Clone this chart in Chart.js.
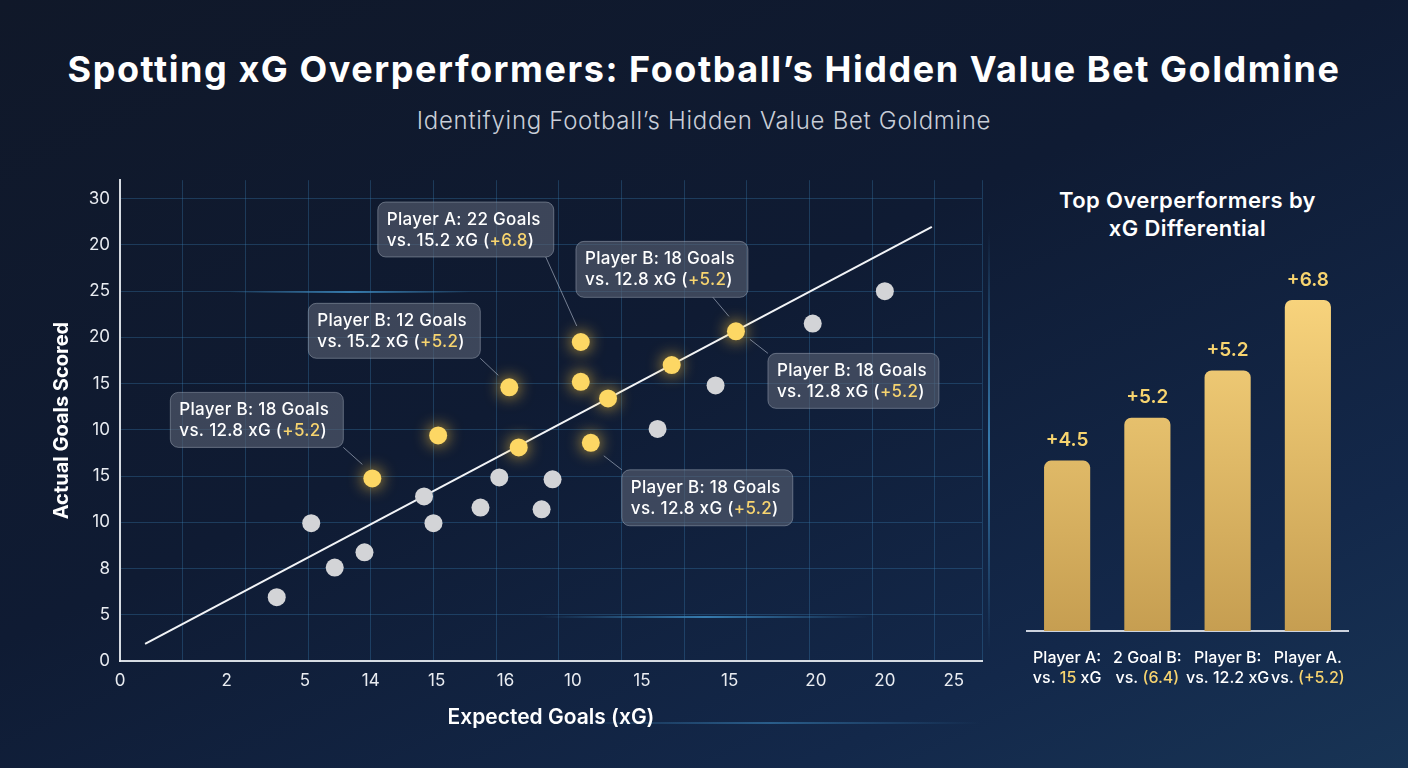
<!DOCTYPE html>
<html>
<head>
<meta charset="utf-8">
<script src="https://cdn.jsdelivr.net/npm/chart.js@4.4.1/dist/chart.umd.min.js"></script>
<style>
  html, body { margin: 0; padding: 0; }
  body {
    width: 1408px; height: 768px; overflow: hidden; position: relative;
    background: linear-gradient(155deg, #101829 0%, #0f1b33 45%, #13284a 80%, #183455 100%);
    font-family: Inter, 'Noto Sans', sans-serif; color: #fff;
  }
  h1 {
    position: absolute; left: 0; width: 1408px; top: 47px; margin: 0;
    text-align: center; font-size: 36px; font-weight: 700; letter-spacing: 1.55px;
  }
  .sub {
    position: absolute; left: 0; width: 1408px; top: 106px;
    text-align: center; font-size: 24px; font-weight: 300; color: #c9ced8; letter-spacing: 0.7px;
  }
  .bartitle {
    position: absolute; left: 1027px; width: 321px; top: 186px;
    text-align: center; font-size: 22px; font-weight: 600; line-height: 28px; letter-spacing: 0.4px;
  }
  .glow { position: absolute; pointer-events: none; }
  #scatterBox { position: absolute; left: 0; top: 160px; width: 1000px; height: 600px; }
  #barBox { position: absolute; left: 1000px; top: 240px; width: 408px; height: 460px; }
</style>
</head>
<body>
<div class="glow" style="left:230px;top:291px;width:240px;height:2px;background:linear-gradient(90deg,transparent,rgba(70,160,220,0.7),transparent)"></div>
<div class="glow" style="left:540px;top:616px;width:330px;height:2px;background:linear-gradient(90deg,transparent,rgba(70,160,220,0.7),transparent)"></div>
<div class="glow" style="left:560px;top:722px;width:420px;height:2px;background:linear-gradient(90deg,transparent,rgba(70,160,220,0.45),transparent)"></div>
<div class="glow" style="left:988px;top:230px;width:2px;height:420px;background:linear-gradient(180deg,transparent,rgba(70,160,220,0.7),transparent)"></div>

<h1>Spotting xG Overperformers: Football’s Hidden Value Bet Goldmine</h1>
<div class="sub">Identifying Football’s Hidden Value Bet Goldmine</div>
<div class="bartitle">Top Overperformers by<br>xG Differential</div>

<div id="scatterBox"><canvas id="scatter"></canvas></div>
<div id="barBox"><canvas id="bars"></canvas></div>

<script>
// axis tick labels as printed on the picture
const yTickLabels = ['0', '5', '8', '10', '15', '10', '15', '20', '25', '20', '30']
const xTickPos = [0, 3.4, 5.9, 8.0, 10.1, 12.3, 14.45, 16.65, 19.45, 22.2, 24.4, 26.6]
const xTickLabels = ['0', '2', '5', '14', '15', '16', '10', '15', '15', '20', '20', '25']

// regular players
const grayX = [5.0, 6.1, 6.85, 7.8, 9.7, 10.0, 11.5, 12.1, 13.45, 13.8, 17.15, 19.0, 22.1, 24.4]
const grayY = [1.38, 2.98, 2.02, 2.35, 3.56, 2.98, 3.32, 3.97, 3.28, 3.93, 5.02, 5.96, 7.3, 8.0]

// overperformers
const goldX = [8.05, 10.15, 12.72, 12.42, 14.7, 14.7, 15.57, 15.02, 17.6, 19.65]
const goldY = [3.95, 4.88, 4.62, 5.92, 6.9, 6.04, 5.68, 4.72, 6.4, 7.13]

// expected = actual line
const trendX = [0.8, 25.9]
const trendY = [0.37, 9.39]

// callout texts: point index in gold series, first line, second line, differential
const calloutPoint = [4, 3, 0, 9, 9, 7]
const calloutTitle = ['Player A: 22 Goals', 'Player B: 12 Goals', 'Player B: 18 Goals', 'Player B: 18 Goals', 'Player B: 18 Goals', 'Player B: 18 Goals']
const calloutXg = ['vs. 15.2 xG', 'vs. 15.2 xG', 'vs. 12.8 xG', 'vs. 12.8 xG', 'vs. 12.8 xG', 'vs. 12.8 xG']
const calloutDiff = ['+6.8', '+5.2', '+5.2', '+5.2', '+5.2', '+5.2']

// bar panel
const barValues = [3.5, 4.38, 5.35, 6.8]
const barLabels = ['+4.5', '+5.2', '+5.2', '+6.8']
const barNames = ['Player A:', '2 Goal B:', 'Player B:', 'Player A.']
const barSubs = [['vs. ', '15', ' xG'], ['vs. ', '(6.4)', ''], ['vs. 12.2 xG', '', ''], ['vs. ', '(+5.2)', '']]

const FONT = 'Inter, "Noto Sans", sans-serif'
const GOLD = '#f7d46f'
const GRID = 'rgba(60,130,185,0.32)'

// box placement relative to the point: box offset, size, leader start, leader end
const calloutLayout = [
  { dx: -203, dy: -140, w: 176, h: 55, l: [-35, -85, -4, -16] },
  { dx: -201, dy: -84, w: 172, h: 55, l: [-29, -29, -11, -12] },
  { dx: -202, dy: -86, w: 173, h: 55, l: [-29, -31, -10, -14] },
  { dx: -160, dy: -90, w: 172, h: 56, l: [-23, -34, -7, -15] },
  { dx: 32, dy: 22, w: 171, h: 55, l: [14, 8, 32, 22] },
  { dx: 31, dy: 27, w: 171, h: 56, l: [13, 13, 31, 27] },
]

function pts(xs, ys) {
  return xs.map((x, i) => ({ x: x, y: ys[i] }))
}

const glowPlugin = {
  id: 'glow',
  beforeDatasetDraw(chart, args) {
    if (args.index !== 0) return
    chart.ctx.save()
    chart.ctx.shadowColor = 'rgba(255,200,60,0.85)'
    chart.ctx.shadowBlur = 16
  },
  afterDatasetDraw(chart, args) {
    if (args.index !== 0) return
    chart.ctx.restore()
  },
}

const calloutPlugin = {
  id: 'callouts',
  afterDraw(chart) {
    const ctx = chart.ctx
    const meta = chart.getDatasetMeta(0)
    calloutPoint.forEach((pi, i) => {
      const p = meta.data[pi]
      const lay = calloutLayout[i]
      const bx = p.x + lay.dx
      const by = p.y + lay.dy
      ctx.save()
      ctx.strokeStyle = 'rgba(200,210,225,0.55)'
      ctx.lineWidth = 1
      ctx.beginPath()
      ctx.moveTo(p.x + lay.l[0], p.y + lay.l[1])
      ctx.lineTo(p.x + lay.l[2], p.y + lay.l[3])
      ctx.stroke()
      ctx.beginPath()
      ctx.roundRect(bx, by, lay.w, lay.h, 8)
      ctx.fillStyle = 'rgba(88,97,115,0.62)'
      ctx.fill()
      ctx.strokeStyle = 'rgba(210,218,230,0.35)'
      ctx.stroke()
      ctx.font = '500 17px ' + FONT
      ctx.letterSpacing = '0.3px'
      ctx.textBaseline = 'middle'
      ctx.fillStyle = '#ffffff'
      ctx.fillText(calloutTitle[i], bx + 9, by + 18)
      let tx = bx + 9
      const ty = by + 39
      const parts = [[calloutXg[i] + ' (', '#ffffff'], [calloutDiff[i], GOLD], [')', '#ffffff']]
      parts.forEach(([t, c]) => {
        ctx.fillStyle = c
        ctx.fillText(t, tx, ty)
        tx += ctx.measureText(t).width
      })
      ctx.restore()
    })
  },
}

const scatterConfig = {
  type: 'scatter',
  data: {
    datasets: [
      {
        label: 'Overperformers',
        data: pts(goldX, goldY),
        backgroundColor: '#fdd764',
        borderWidth: 0,
        pointRadius: 9,
        order: 0,
      },
      {
        label: 'Players',
        data: pts(grayX, grayY),
        backgroundColor: '#d3d4d7',
        borderWidth: 0,
        pointRadius: 9,
        order: 1,
      },
      {
        label: 'xG line',
        data: pts(trendX, trendY),
        showLine: true,
        borderColor: '#f2f4f7',
        borderWidth: 2,
        pointRadius: 0,
        order: 2,
      },
    ],
  },
  options: {
    responsive: true,
    maintainAspectRatio: false,
    animation: false,
    layout: { padding: { top: 20, right: 18, left: 0, bottom: 0 } },
    plugins: { legend: { display: false }, tooltip: { enabled: false } },
    scales: {
      x: {
        type: 'linear',
        min: 0,
        max: 27.5,
        afterBuildTicks(scale) {
          scale.ticks = xTickPos.map(v => ({ value: v }))
        },
        afterFit(scale) {
          scale.height = 99
        },
        grid: { display: false, drawTicks: false },
        border: { display: true, color: 'rgba(235,238,243,0.9)', width: 2 },
        ticks: {
          autoSkip: false,
          maxRotation: 0,
          padding: 10,
          color: '#e9ecf1',
          font: { family: FONT, size: 17 },
          callback: (v, i) => xTickLabels[i],
        },
        title: {
          display: true,
          text: 'Expected Goals (xG)',
          color: '#ffffff',
          font: { family: FONT, size: 21, weight: '600' },
          padding: { top: 0, bottom: 30 },
        },
      },
      xg: {
        type: 'linear',
        position: 'bottom',
        min: 0,
        max: 27.5,
        afterFit(scale) {
          scale.height = 0
        },
        grid: { color: GRID, drawTicks: false },
        border: { display: false },
        ticks: { display: false, stepSize: 2 },
      },
      y: {
        min: 0,
        max: 10.4,
        afterBuildTicks(scale) {
          scale.ticks = yTickLabels.map((_, i) => ({ value: i }))
        },
        afterFit(scale) {
          scale.width = 120
        },
        grid: { color: GRID, drawTicks: false },
        border: { display: true, color: 'rgba(235,238,243,0.9)', width: 2 },
        ticks: {
          padding: 10,
          color: '#e9ecf1',
          font: { family: FONT, size: 17 },
          callback: (v, i) => yTickLabels[i],
        },
        title: {
          display: true,
          text: 'Actual Goals Scored',
          color: '#ffffff',
          font: { family: FONT, size: 20, weight: '700' },
          padding: { top: 50, bottom: 0 },
        },
      },
    },
  },
  plugins: [glowPlugin, calloutPlugin],
}

const barTextPlugin = {
  id: 'barText',
  afterDraw(chart) {
    const ctx = chart.ctx
    const meta = chart.getDatasetMeta(0)
    ctx.save()
    ctx.textAlign = 'center'
    ctx.textBaseline = 'middle'
    meta.data.forEach((bar, i) => {
      ctx.font = '600 19px ' + FONT
      ctx.fillStyle = GOLD
      ctx.fillText(barLabels[i], bar.x, bar.y - 20)

      const base = chart.chartArea.bottom
      ctx.font = '500 16px ' + FONT
      ctx.fillStyle = '#ffffff'
      ctx.fillText(barNames[i], bar.x, base + 27)
      const parts = barSubs[i]
      const widths = parts.map(t => ctx.measureText(t).width)
      let tx = bar.x - (widths[0] + widths[1] + widths[2]) / 2
      ctx.textAlign = 'left'
      parts.forEach((t, k) => {
        ctx.fillStyle = k === 1 ? GOLD : '#ffffff'
        ctx.fillText(t, tx, base + 47)
        tx += widths[k]
      })
      ctx.textAlign = 'center'
    })
    ctx.restore()
  },
}

const barConfig = {
  type: 'bar',
  data: {
    labels: barNames,
    datasets: [
      {
        label: 'xG differential',
        data: barValues,
        backgroundColor(c) {
          const area = c.chart.chartArea
          if (!area) return '#e8c06a'
          const g = c.chart.ctx.createLinearGradient(0, area.top, 0, area.bottom)
          g.addColorStop(0, '#fdd981')
          g.addColorStop(1, '#c69e51')
          return g
        },
        borderRadius: { topLeft: 7, topRight: 7 },
        borderSkipped: 'bottom',
        categoryPercentage: 1,
        barPercentage: 0.575,
      },
    ],
  },
  options: {
    responsive: true,
    maintainAspectRatio: false,
    animation: false,
    layout: { padding: { top: 21, right: 60, left: 27, bottom: 0 } },
    plugins: { legend: { display: false }, tooltip: { enabled: false } },
    scales: {
      x: {
        afterFit(scale) {
          scale.height = 69
        },
        grid: { display: false, drawTicks: false },
        border: { display: true, color: 'rgba(225,230,238,0.9)', width: 2 },
        ticks: { display: false },
      },
      y: {
        display: false,
        min: 0,
        max: 7.6,
      },
    },
  },
  plugins: [barTextPlugin],
}

window.myScatter = new Chart(document.getElementById('scatter'), scatterConfig)
window.myBar = new Chart(document.getElementById('bars'), barConfig)
</script>
</body>
</html>
